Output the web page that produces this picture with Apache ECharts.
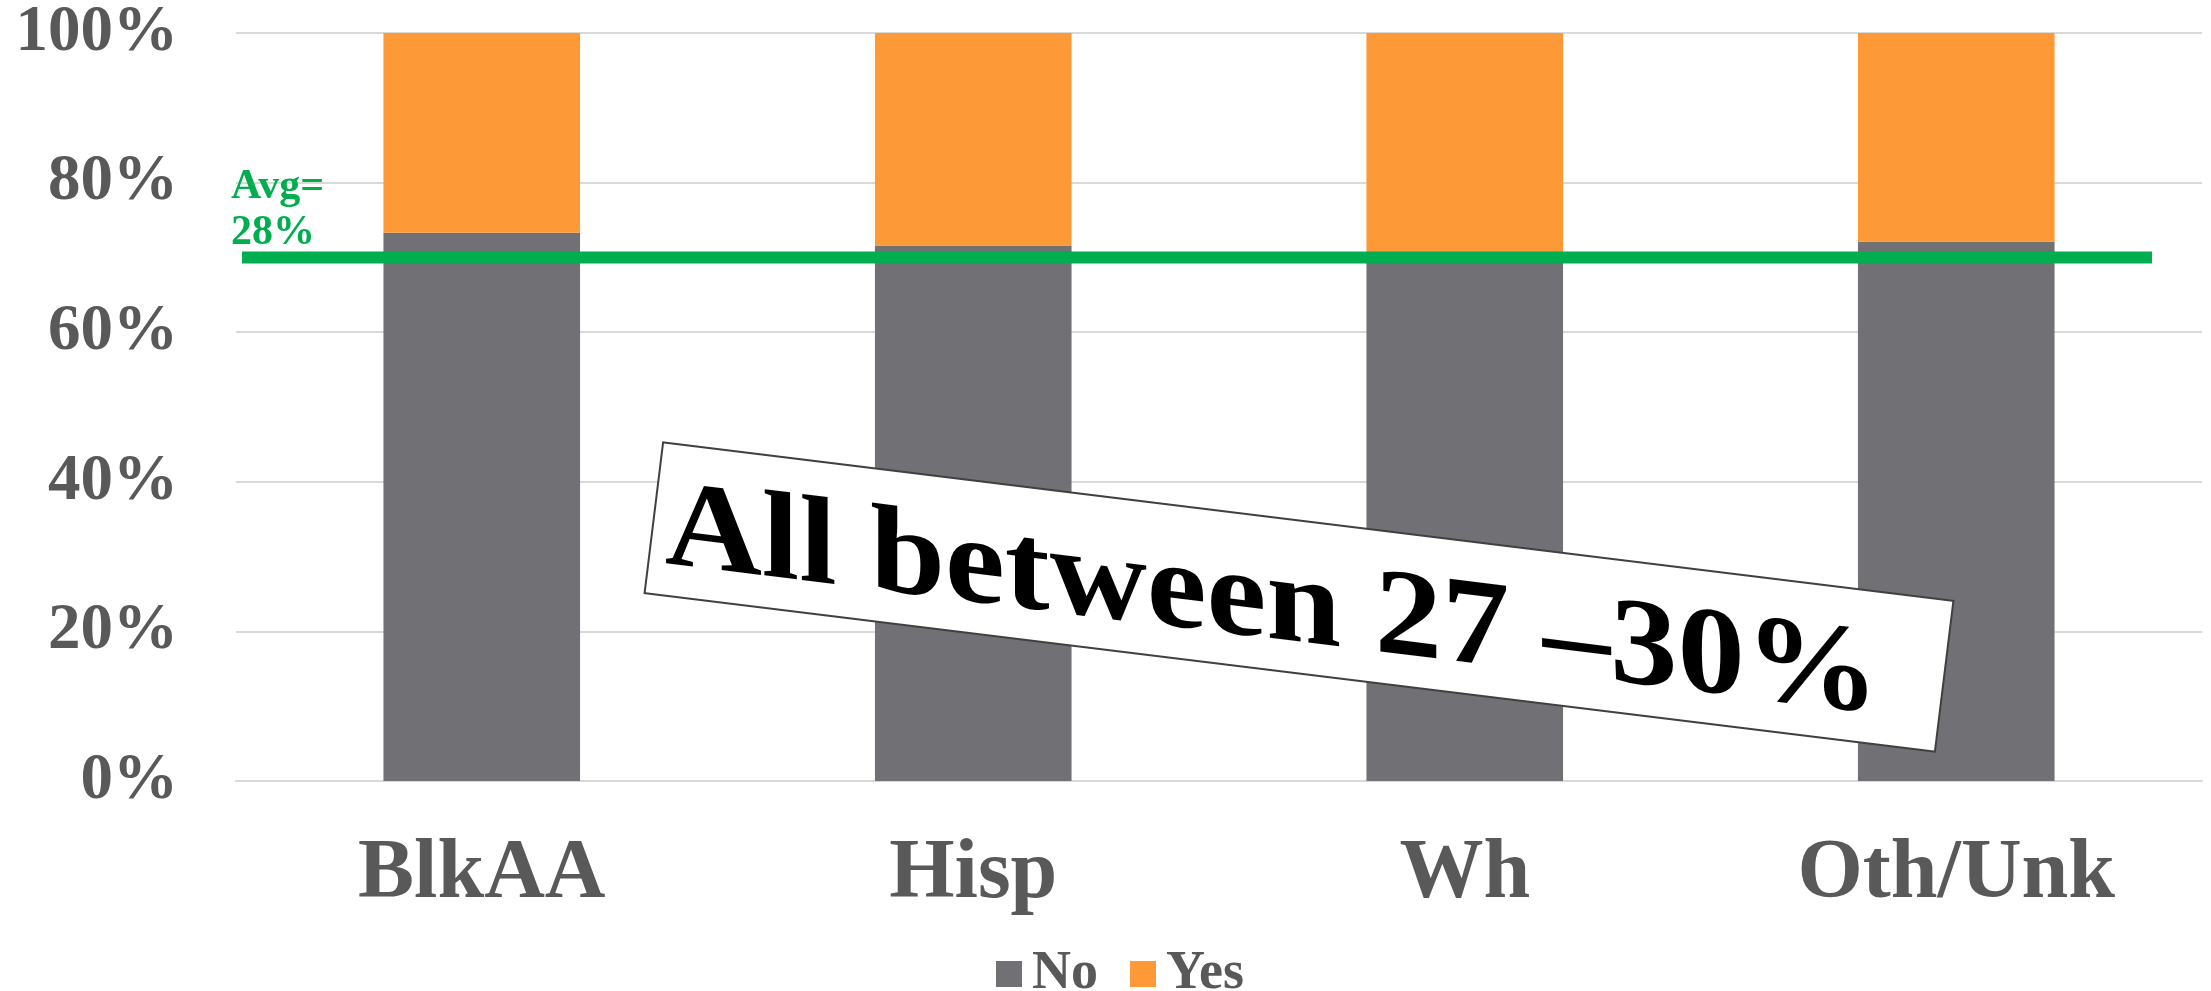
<!DOCTYPE html>
<html>
<head>
<meta charset="utf-8">
<script src="https://cdn.jsdelivr.net/npm/echarts@6/dist/echarts.min.js"></script>
<style>
html,body{margin:0;padding:0;background:#fff;}
#main{width:2211px;height:991px;}
</style>
</head>
<body>
<div id="main"></div>
<script>
const categories = ['BlkAA', 'Hisp', 'Wh', 'Oth/Unk'];
const noValues = [73.3, 71.6, 70.5, 72.1];
const yesValues = [26.7, 28.4, 29.5, 27.9];
const avgLineValue = 70;
const avgLabel = 'Avg=\n28%';
const calloutText = 'All between 27 \u201330%';

const SERIF = "'Liberation Serif', 'Times New Roman', serif";
const chart = echarts.init(document.getElementById('main'), null, {renderer: 'canvas'});

chart.setOption({
  animation: false,
  backgroundColor: '#ffffff',
  grid: {left: 236, right: 9, top: 33, bottom: 210, containLabel: false},
  legend: {
    data: ['No', 'Yes'],
    left: 991,
    top: 942,
    icon: 'rect',
    itemWidth: 26,
    itemHeight: 26,
    itemGap: 32,
    textStyle: {fontFamily: SERIF, fontWeight: 'bold', fontSize: 54, color: '#595959', padding: [0, 0, 0, 5]}
  },
  xAxis: {
    type: 'category',
    data: categories,
    axisTick: {show: false},
    axisLine: {show: true, lineStyle: {color: '#d9d9d9', width: 2}},
    axisLabel: {fontFamily: SERIF, fontWeight: 'bold', fontSize: 84, color: '#595959', margin: 52}
  },
  yAxis: {
    type: 'value',
    min: 0,
    max: 100,
    interval: 20,
    axisLine: {show: false},
    axisTick: {show: false},
    splitLine: {lineStyle: {color: '#d9d9d9', width: 2}},
    axisLabel: {formatter: '{value}%', fontFamily: SERIF, fontWeight: 'bold', fontSize: 65, color: '#595959', margin: 58}
  },
  series: [
    {name: 'No', type: 'bar', stack: 'total', data: noValues, barWidth: '40%', itemStyle: {color: '#717075'}},
    {name: 'Yes', type: 'bar', stack: 'total', data: yesValues, barWidth: '40%', itemStyle: {color: '#FD9937'}}
  ]
});

const lineY = chart.convertToPixel({yAxisIndex: 0}, avgLineValue);
const deg = Math.PI / 180;
chart.setOption({
  graphic: [
    {type: 'line', z: 10, shape: {x1: 242, y1: lineY, x2: 2152, y2: lineY}, style: {stroke: '#00AD4F', lineWidth: 12}},
    {type: 'text', z: 10, x: 231, y: 164, style: {text: avgLabel, font: 'bold 42px ' + SERIF, fill: '#00AD4F', lineHeight: 46}},
    {type: 'rect', z: 20, x: 1299, y: 597, rotation: -7 * deg,
      shape: {x: -650, y: -76, width: 1300, height: 152},
      style: {fill: '#ffffff', stroke: '#404040', lineWidth: 2}},
    {type: 'text', z: 21, x: 1272, y: 606, skewY: -Math.tan(7 * deg), scaleX: 1.16, scaleY: 1.07,
      style: {text: calloutText, font: 'bold 116px ' + SERIF, fill: '#000000', align: 'center', verticalAlign: 'middle'}}
  ]
});
</script>
</body>
</html>
